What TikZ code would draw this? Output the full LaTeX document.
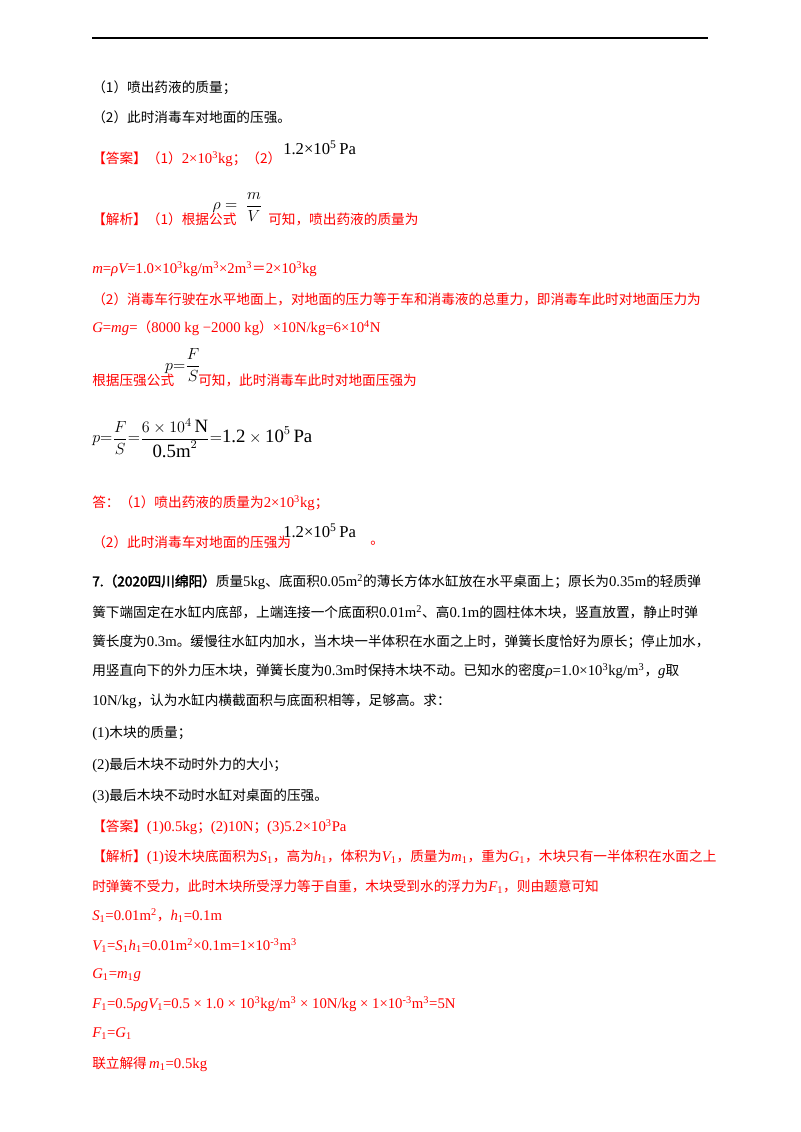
\documentclass[tikz,border=0pt]{standalone}
\usepackage{amsmath}
\usepackage{fontspec}
\setmainfont{Noto Sans CJK SC}[AutoFakeBold=2.5]
\newfontfamily\tm{Liberation Serif}[Scale=1.08]
\newcommand{\T}[1]{{\tm #1}}
\newcommand{\I}[1]{{\tm\itshape #1}}
\newcommand{\Su}[1]{\textsuperscript{\tm #1}}
\newcommand{\Sb}[1]{\textsubscript{\tm #1}}
\newcommand{\U}[1]{\text{\tm #1}}
\definecolor{rd}{RGB}{255,0,0}
\begin{document}
\begin{tikzpicture}[x=0.02625cm,y=-0.02625cm,
  L/.style={anchor=west,inner sep=0pt,font=\fontsize{10.2}{12}\selectfont},
  R/.style={L,text=rd},
  M/.style={anchor=center,inner sep=0pt,font=\tm\fontsize{11.5}{13}\selectfont}]
\useasboundingbox (0,0) rectangle (800,1132);
\fill[white] (0,0) rectangle (800,1132);
\draw[line width=0.8pt] (92,38) -- (708,38);
\node[L] (a1) at (92,88) {（1）喷出药液的质量；};
\node[L] (a2) at (92,117) {（2）此时消毒车对地面的压强。};
\node[R] (a3) at (92,159) {【答案】（1）\T{2×10\Su{3}kg}；（2）};
\node[M,anchor=west] (a3b) at (283,148) {1.2×10\Su{5}\,Pa};
\node[R] (a4) at (92,219) {【解析】（1）根据公式};
\node[M] (rho) at (225,208) {$\rho =$};
\node[M] (fr1) at (254,207) {$\dfrac{m}{V}$};
\node[R] (a4b) at (268,219) {可知，喷出药液的质量为};
\node[R] (a5) at (92,269) {\I{m}\T{=}\I{ρV}\T{=1.0×10\Su{3}kg/m\Su{3}×2m\Su{3}}＝\T{2×10\Su{3}kg}};
\node[R] (a6) at (92,299) {（2）消毒车行驶在水平地面上，对地面的压力等于车和消毒液的总重力，即消毒车此时对地面压力为};
\node[R] (a7) at (92,328) {\I{G}\T{=}\I{mg}\T{=}（\T{8000 kg −2000 kg}）\T{×10N/kg=6×10\Su{4}N}};
\node[R] (a8) at (92,380) {根据压强公式};
\node[M] (pf) at (183,365) {$p{=}\dfrac{F}{S}$};
\node[R] (a8b) at (198,380) {可知，此时消毒车此时对地面压强为};
\node[M,anchor=west,font=\fontsize{13}{15}\selectfont] (a9) at (92,438) {$p{=}\dfrac{F}{S}{=}\dfrac{6\times10^{4}\,\U{N}}{\U{0.5m}^{2}}{=}\U{1.2}\times\U{10}^{5}\,\U{Pa}$};
\node[R] (a10) at (92,503) {答：（1）喷出药液的质量为\T{2×10\Su{3}kg}；};
\node[R] (a11) at (92,542) {（2）此时消毒车对地面的压强为};
\node[M,anchor=west] (a11b) at (283,531) {1.2×10\Su{5}\,Pa};
\node[R] (a11c) at (370,543) {。};
\node[L] (b1) at (92,582) {\textbf{7.（2020四川绵阳）}质量\T{5kg}、底面积\T{0.05m\Su{2}}的薄长方体水缸放在水平桌面上；原长为\T{0.35m}的轻质弹};
\node[L] (b2) at (92,612) {簧下端固定在水缸内底部，上端连接一个底面积\T{0.01m\Su{2}}、高\T{0.1m}的圆柱体木块，竖直放置，静止时弹};
\node[L] (b3) at (92,642) {簧长度为\T{0.3m}。缓慢往水缸内加水，当木块一半体积在水面之上时，弹簧长度恰好为原长；停止加水，};
\node[L] (b4) at (92,671) {用竖直向下的外力压木块，弹簧长度为\T{0.3m}时保持木块不动。已知水的密度\I{ρ}\T{=1.0×10\Su{3}kg/m\Su{3}}，\I{g}取};
\node[L] (b5) at (92,701) {\T{10N/kg}，认为水缸内横截面积与底面积相等，足够高。求：};
\node[L] (b6) at (92,733) {\T{(1)}木块的质量；};
\node[L] (b7) at (92,765) {\T{(2)}最后木块不动时外力的大小；};
\node[L] (b8) at (92,796) {\T{(3)}最后木块不动时水缸对桌面的压强。};
\node[R] (c1) at (92,827) {【答案】\T{(1)0.5kg}；\T{(2)10N}；\T{(3)5.2×10\Su{3}Pa}};
\node[R] (c2) at (92,857) {【解析】\T{(1)}设木块底面积为\I{S}\Sb{1}，高为\I{h}\Sb{1}，体积为\I{V}\Sb{1}，质量为\I{m}\Sb{1}，重为\I{G}\Sb{1}，木块只有一半体积在水面之上};
\node[R] (c3) at (92,887) {时弹簧不受力，此时木块所受浮力等于自重，木块受到水的浮力为\I{F}\Sb{1}，则由题意可知};
\node[R] (c4) at (92,916) {\I{S}\Sb{1}\T{=0.01m\Su{2}}，\I{h}\Sb{1}\T{=0.1m}};
\node[R] (c5) at (92,946) {\I{V}\Sb{1}\T{=}\I{S}\Sb{1}\I{h}\Sb{1}\T{=0.01m\Su{2}×0.1m=1×10\Su{-3}m\Su{3}}};
\node[R] (c6) at (92,975) {\I{G}\Sb{1}\T{=}\I{m}\Sb{1}\I{g}};
\node[R] (c7) at (92,1004) {\I{F}\Sb{1}\T{=0.5}\I{ρgV}\Sb{1}\T{=0.5 × 1.0 × 10\Su{3}kg/m\Su{3} × 10N/kg × 1×10\Su{-3}m\Su{3}=5N}};
\node[R] (c8) at (92,1034) {\I{F}\Sb{1}\T{=}\I{G}\Sb{1}};
\node[R] (c9) at (92,1064) {联立解得\,\I{m}\Sb{1}\T{=0.5kg}};
\end{tikzpicture}
\end{document}
